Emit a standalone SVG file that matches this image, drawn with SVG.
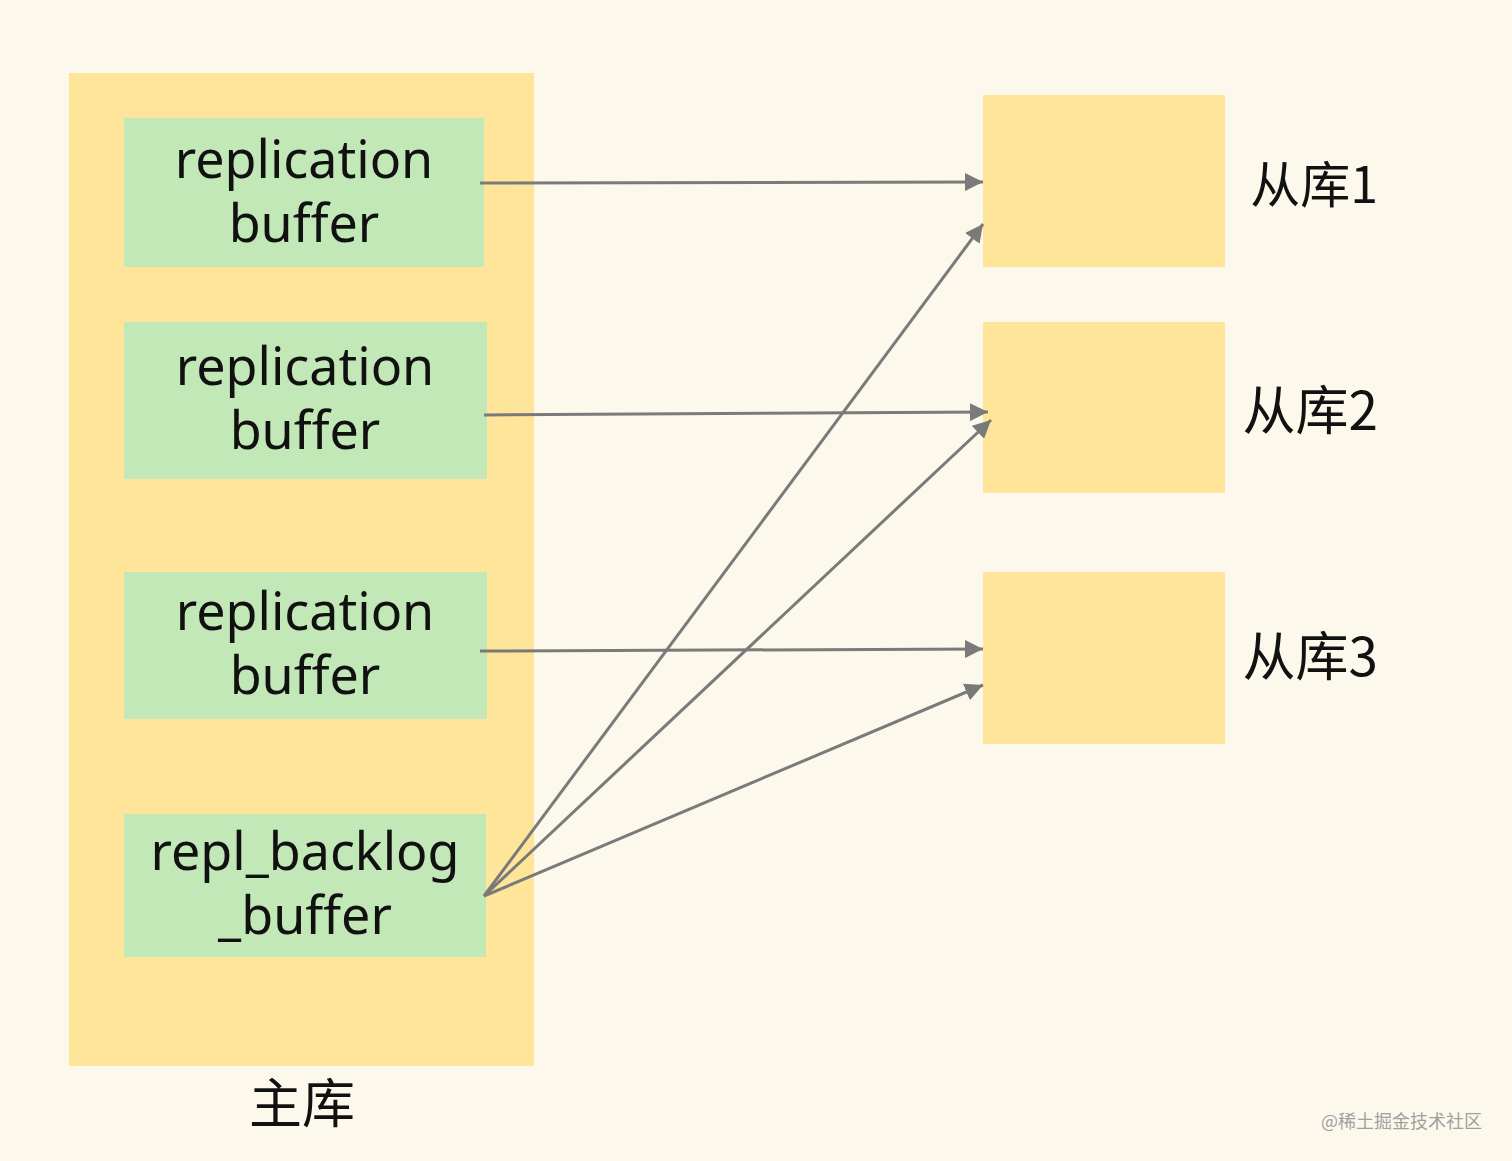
<svg xmlns="http://www.w3.org/2000/svg" width="1512" height="1161" viewBox="0 0 1512 1161">
<style>
.en{font-family:"Noto Sans","Open Sans",sans-serif;font-size:52px;fill:#111;text-anchor:middle}
.cn{font-family:"Noto Sans CJK SC","Noto Sans",sans-serif;font-size:50px;fill:#111}
.big{font-size:53px}
.g{fill:#c2e8b8}
.y{fill:#fee59a}
.c{stroke:#7a7a7a;stroke-width:3;fill:none;marker-end:url(#ah)}
</style>
<defs>
<marker id="ah" viewBox="0 0 10 10" refX="10" refY="5" markerWidth="6" markerHeight="6" markerUnits="strokeWidth" orient="auto">
<path d="M0,0 L10,5 L0,10 z" fill="#7a7a7a"/>
</marker>
</defs>
<rect width="1512" height="1161" fill="#fcf9ec"/>
<g id="master">
<rect class="y" x="69" y="73" width="465" height="993"/>
<text class="cn big" x="302" y="1123" text-anchor="middle">主库</text>
</g>
<g id="buf1">
<rect class="g" x="124" y="118" width="360" height="149"/>
<text class="en" x="304" y="178">replication</text>
<text class="en" x="304" y="242">buffer</text>
</g>
<g id="buf2">
<rect class="g" x="124" y="322" width="363" height="157"/>
<text class="en" x="305" y="385">replication</text>
<text class="en" x="305" y="449">buffer</text>
</g>
<g id="buf3">
<rect class="g" x="124" y="572" width="363" height="147"/>
<text class="en" x="305" y="630">replication</text>
<text class="en" x="305" y="694">buffer</text>
</g>
<g id="backlog">
<rect class="g" x="124" y="814" width="362" height="143"/>
<text class="en" x="305" y="870">repl_backlog</text>
<text class="en" x="305" y="934">_buffer</text>
</g>
<g id="slave1">
<rect class="y" x="983" y="95" width="242" height="172"/>
<text class="cn" x="1378" y="203" text-anchor="end">从库1</text>
</g>
<g id="slave2">
<rect class="y" x="983" y="322" width="242" height="171"/>
<text class="cn big" x="1378" y="430" text-anchor="end">从库2</text>
</g>
<g id="slave3">
<rect class="y" x="983" y="572" width="242" height="172"/>
<text class="cn big" x="1378" y="676" text-anchor="end">从库3</text>
</g>
<g id="connectors">
<path class="c" d="M480,183 L983,182"/>
<path class="c" d="M484,415 L988,412"/>
<path class="c" d="M480,651 L983,649"/>
<path class="c" d="M484,896 L983,224"/>
<path class="c" d="M484,896 L991,420"/>
<path class="c" d="M484,896 L983,685"/>
</g>
<text x="1482" y="1128" text-anchor="end" font-family="Noto Sans CJK SC,sans-serif" font-size="18" fill="#a0a0a0">@稀土掘金技术社区</text>
</svg>
